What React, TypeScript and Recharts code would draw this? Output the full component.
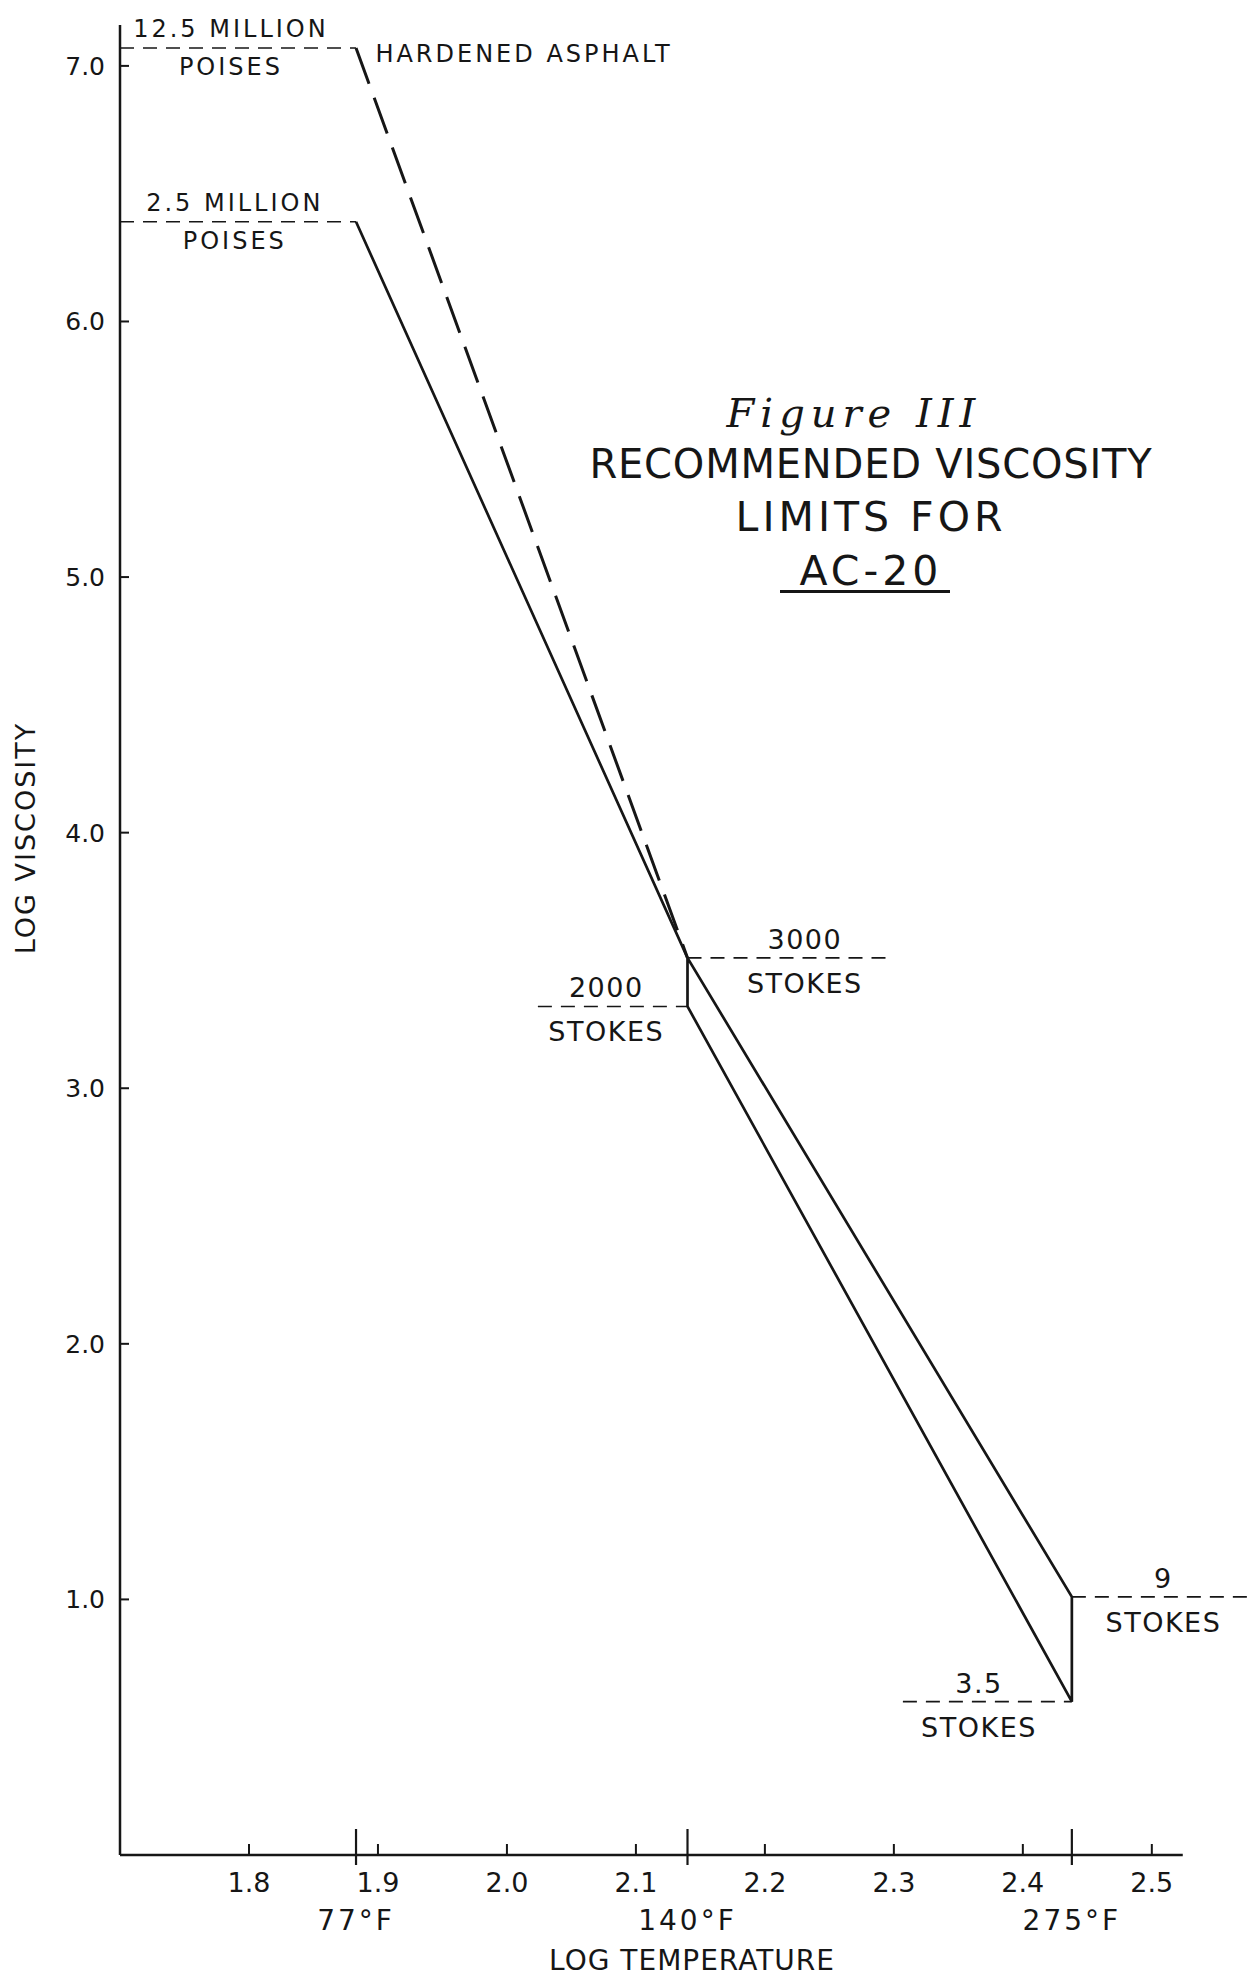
import { LineChart, Line, XAxis, YAxis, ReferenceLine, ReferenceDot } from 'recharts'

const INK = '#161616'
const FONT = "'DejaVu Sans', 'Liberation Sans', sans-serif"

// temperatures on the log axis (77°F, 140°F, 275°F)
const TEMP_LABELS = ['77°F', '140°F', '275°F']
const LOG_TEMP = [1.883, 2.14, 2.438]
const X_TICKS = [1.8, 1.9, 2.0, 2.1, 2.2, 2.3, 2.4, 2.5]
const Y_TICKS = [1, 2, 3, 4, 5, 6, 7]

// log viscosity
const HARDENED = [7.07, 3.51] // 77°F -> 140°F, dashed
const MAX_LIMIT = [6.39, 3.51, 1.01] // 77, 140, 275
const MIN_LIMIT = [3.32, 0.6] // 140, 275

// limit markers: value, dashed span, label position
const MARKS = [
  { top: '12.5 MILLION', bottom: 'POISES', v: 7.07, from: 1.7, to: 1.883, at: 1.786 },
  { top: '2.5 MILLION', bottom: 'POISES', v: 6.39, from: 1.7, to: 1.883, at: 1.789 },
  { top: '3000', bottom: 'STOKES', v: 3.51, from: 2.14, to: 2.295, at: 2.231 },
  { top: '2000', bottom: 'STOKES', v: 3.32, from: 2.024, to: 2.14, at: 2.077 },
  { top: '9', bottom: 'STOKES', v: 1.01, from: 2.438, to: 2.576, at: 2.509 },
  { top: '3.5', bottom: 'STOKES', v: 0.6, from: 2.307, to: 2.438, at: 2.366 },
]

const hardenedData = LOG_TEMP.slice(0, 2).map((t, i) => ({ t, v: HARDENED[i] }))
const outlineData = [
  ...LOG_TEMP.map((t, i) => ({ t, v: MAX_LIMIT[i] })),
  { t: LOG_TEMP[2], v: MIN_LIMIT[1] },
  { t: LOG_TEMP[1], v: MIN_LIMIT[0] },
  { t: LOG_TEMP[1], v: MAX_LIMIT[1] },
]
const AXIS_TICKS = [...X_TICKS, ...LOG_TEMP].sort((a, b) => a - b)

const txt = { fontFamily: FONT, fill: INK }

function XTick(p: any) {
  const { x, y, payload } = p
  const i = LOG_TEMP.indexOf(payload.value)
  if (i >= 0) {
    return (
      <g>
        <line x1={x} x2={x} y1={y - 26} y2={y + 10} stroke={INK} strokeWidth={2.2} />
        <text x={x} y={y + 75} textAnchor="middle" fontSize={28} letterSpacing={3} {...txt}>{TEMP_LABELS[i]}</text>
      </g>
    )
  }
  return (
    <g>
      <line x1={x} x2={x} y1={y - 11} y2={y} stroke={INK} strokeWidth={2} />
      <text x={x} y={y + 37} textAnchor="middle" fontSize={27} {...txt}>{payload.value.toFixed(1)}</text>
    </g>
  )
}

function YTick(p: any) {
  const { x, y, payload } = p
  return (
    <g>
      <line x1={x} x2={x + 9} y1={y} y2={y} stroke={INK} strokeWidth={2} />
      <text x={x - 15} y={y + 9} textAnchor="end" fontSize={25} {...txt}>{payload.value.toFixed(1)}</text>
    </g>
  )
}

function markShape(m: typeof MARKS[number]) {
  const poise = m.bottom === 'POISES'
  const fs = poise ? 24 : 27
  const ls = poise ? 3 : 1.5
  return (p: any) => (
    <g>
      <text x={p.cx} y={p.cy - (poise ? 11 : 9)} textAnchor="middle" fontSize={fs} letterSpacing={ls} {...txt}>{m.top}</text>
      <text x={p.cx} y={p.cy + (poise ? 27 : 35)} textAnchor="middle" fontSize={fs} letterSpacing={ls} {...txt}>{m.bottom}</text>
    </g>
  )
}

const abs = (left: number, top: number, extra: any = {}) => ({
  position: 'absolute' as const, left, top, transform: 'translate(-50%, -50%)',
  whiteSpace: 'nowrap' as const, lineHeight: 1, fontFamily: FONT, color: INK, ...extra,
})

export default function App() {
  return (
    <div style={{ position: 'relative', width: 1250, height: 1970, background: '#fff' }}>
      <LineChart width={1250} height={1970} margin={{ top: 17, right: 3, left: 0, bottom: 2 }}>
        <XAxis type="number" dataKey="t" domain={[1.7, 2.58]} ticks={AXIS_TICKS} interval={0} height={121}
          axisLine={false} tickLine={false} tickSize={0} tickMargin={0} tick={(p: any) => <XTick {...p} />} allowDataOverflow />
        <YAxis type="number" domain={[0, 7.16]} ticks={Y_TICKS} interval={0} width={112}
          axisLine={{ stroke: INK, strokeWidth: 2.5 }} tickLine={false} tickSize={0} tickMargin={0}
          tick={(p: any) => <YTick {...p} />} allowDataOverflow />
        <ReferenceLine segment={[{ x: 1.7, y: 0 }, { x: 2.524, y: 0 }]} stroke={INK} strokeWidth={2.5} ifOverflow="visible" />
        {MARKS.map((m, i) => (
          <ReferenceLine key={'l' + i} segment={[{ x: m.from, y: m.v }, { x: m.to, y: m.v }]}
            stroke={INK} strokeWidth={1.6} strokeDasharray="14 9" ifOverflow="visible" />
        ))}
        {MARKS.map((m, i) => (
          <ReferenceDot key={'d' + i} x={m.at} y={m.v} r={0} shape={markShape(m)} />
        ))}
        <ReferenceDot x={1.898} y={7.05} r={0} shape={(p: any) => (
          <text x={p.cx} y={p.cy + 9} fontSize={24} letterSpacing={3} {...txt}>HARDENED ASPHALT</text>
        )} />
        <Line data={hardenedData} dataKey="v" type="linear" dot={false} stroke={INK} strokeWidth={3}
          strokeDasharray="38 15" isAnimationActive={false} />
        <Line data={outlineData} dataKey="v" type="linear" dot={false} stroke={INK} strokeWidth={2.7}
          strokeLinejoin="miter" isAnimationActive={false} />
      </LineChart>

      <div style={abs(17, 830, { fontSize: 27, letterSpacing: 2, transform: 'translate(-50%, -50%) rotate(-90deg)' })}>LOG VISCOSITY</div>
      <div style={abs(684, 1953, { fontSize: 28, letterSpacing: 1 })}>LOG TEMPERATURE</div>

      <div style={abs(846, 405, { fontSize: 40, fontStyle: 'italic', letterSpacing: 6, fontFamily: "'DejaVu Serif', serif" })}>Figure III</div>
      <div style={abs(863, 456, { fontSize: 40, letterSpacing: 0.8 })}>RECOMMENDED VISCOSITY</div>
      <div style={abs(863, 509, { fontSize: 41, letterSpacing: 4 })}>LIMITS FOR</div>
      <div style={abs(863, 563, { fontSize: 41, letterSpacing: 4 })}>AC-20</div>
      <div style={{ position: 'absolute', left: 772, top: 582, width: 170, height: 3, background: INK }} />
    </div>
  )
}
